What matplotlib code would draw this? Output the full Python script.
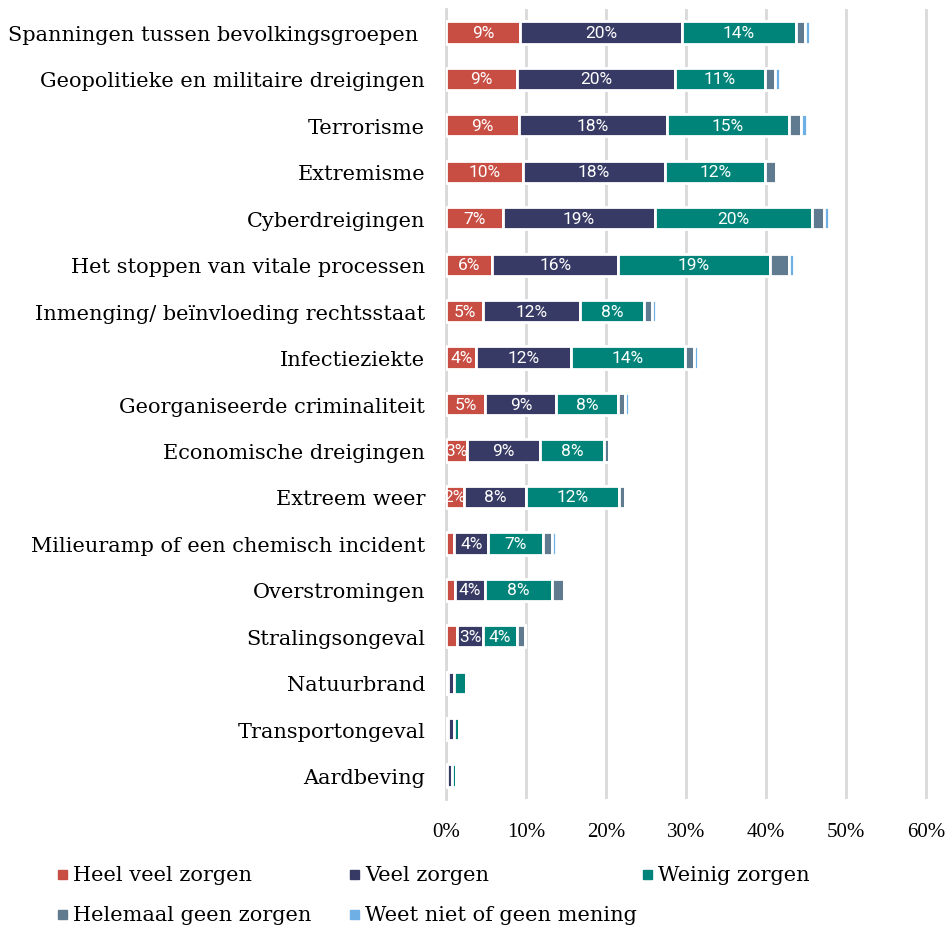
import numpy as np
import matplotlib
matplotlib.use("Agg")
import matplotlib.pyplot as plt
from matplotlib.patches import Rectangle

# categories, top to bottom
categories = [
    "Spanningen tussen bevolkingsgroepen ",
    "Geopolitieke en militaire dreigingen",
    "Terrorisme",
    "Extremisme",
    "Cyberdreigingen",
    "Het stoppen van vitale processen",
    "Inmenging/ beïnvloeding rechtsstaat",
    "Infectieziekte",
    "Georganiseerde criminaliteit",
    "Economische dreigingen",
    "Extreem weer",
    "Milieuramp of een chemisch incident",
    "Overstromingen",
    "Stralingsongeval",
    "Natuurbrand",
    "Transportongeval",
    "Aardbeving",
]

# percentages per answer
heel_veel = [9.2, 8.9, 9.1, 9.6, 7.1, 5.8, 4.6, 3.8, 4.9, 2.6, 2.2, 1.0, 1.1, 1.4, 0.2, 0.2, 0.1]
veel = [20.3, 19.7, 18.5, 17.8, 19.0, 15.7, 12.1, 11.8, 8.9, 9.2, 7.8, 4.3, 3.8, 3.2, 0.85, 0.75, 0.6]
weinig = [14.2, 11.3, 15.3, 12.5, 19.6, 19.0, 8.1, 14.3, 7.7, 7.9, 11.6, 6.8, 8.3, 4.3, 1.4, 0.65, 0.5]
helemaal_geen = [1.2, 1.2, 1.5, 1.3, 1.6, 2.4, 0.9, 1.1, 0.9, 0.7, 0.8, 1.1, 1.5, 1.0, 0.0, 0.0, 0.0]
weet_niet = [0.6, 0.6, 0.7, 0.0, 0.6, 0.6, 0.5, 0.5, 0.5, 0.0, 0.0, 0.5, 0.0, 0.0, 0.0, 0.0, 0.0]

series_names = ["Heel veel zorgen", "Veel zorgen", "Weinig zorgen",
                "Helemaal geen zorgen", "Weet niet of geen mening"]
series = [heel_veel, veel, weinig, helemaal_geen, weet_niet]
colors = ["#C84D43", "#373A64", "#00847A", "#607A8F", "#6EAFE6"]
labelled = [True, True, True, False, False]

xticks = [0, 10, 20, 30, 40, 50, 60]

fig = plt.figure(figsize=(9.49, 9.29), dpi=100)
ax = fig.add_axes([0.47, 0.139, 0.5075, 0.85])

y = np.arange(len(categories))
left = np.zeros(len(categories))
for vals, name, col, lab in zip(series, series_names, colors, labelled):
    vals = np.array(vals)
    ax.barh(y, vals, left=left, height=0.48, color=col, edgecolor="white",
            linewidth=2, label=name, zorder=3)
    if lab:
        for yi, (l, v) in enumerate(zip(left, vals)):
            if round(v) >= 2:
                ax.text(l + v / 2, yi, f"{round(v)}%", ha="center", va="center",
                        color="white", fontsize=12.5, family="Roboto", zorder=4)
    left = left + vals

ax.set_xlim(0, 60.2)
ax.set_ylim(len(categories) - 0.5, -0.5)
ax.set_xticks(xticks)
ax.set_xticklabels([f"{t}%" for t in xticks], family="Liberation Serif", fontsize=15)
ax.set_yticks(y)
ax.set_yticklabels(categories, family="DejaVu Serif", fontsize=15)
ax.tick_params(axis="both", length=0)
ax.tick_params(axis="x", pad=17)
ax.tick_params(axis="y", pad=15)
ax.grid(axis="x", color="#D9D9D9", linewidth=2, zorder=0)
for s in ["top", "right", "bottom"]:
    ax.spines[s].set_visible(False)
ax.spines["left"].set_color("#D9D9D9")
ax.spines["left"].set_linewidth(2)

# legend laid out like the original: 3 per row
leg_pos = [(0.0611, 0.058), (0.3688, 0.058), (0.6776, 0.058),
           (0.0611, 0.0145), (0.3688, 0.0145)]
for (lx, ly), name, col in zip(leg_pos, series_names, colors):
    fig.patches.append(Rectangle((lx, ly - 0.0048), 0.0095, 0.0097, color=col,
                                 transform=fig.transFigure, figure=fig))
    fig.text(lx + 0.0158, ly, name, va="center", ha="left",
             family="DejaVu Serif", fontsize=15)

fig.savefig("out.png", dpi=100)
